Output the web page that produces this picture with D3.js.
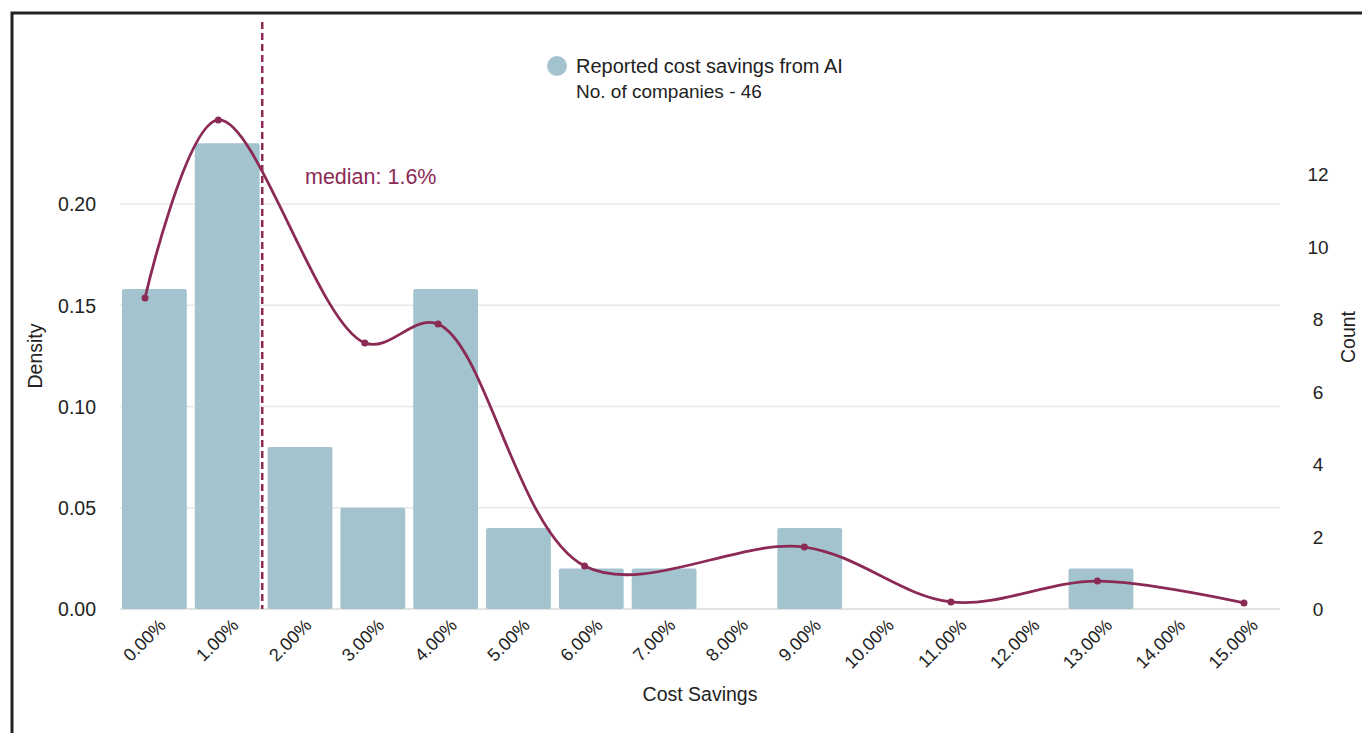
<!DOCTYPE html>
<html>
<head>
<meta charset="utf-8">
<script src="https://cdn.jsdelivr.net/npm/d3@7"></script>
<style>
  body { margin: 0; background: #fff; }
  svg { display: block; font-family: "Liberation Sans", Arial, sans-serif; }
</style>
</head>
<body>
<div id="chart"></div>
<script>
// histogram bins (cost savings %), density
const binLabels = ["0.00%","1.00%","2.00%","3.00%","4.00%","5.00%","6.00%","7.00%",
                   "8.00%","9.00%","10.00%","11.00%","12.00%","13.00%","14.00%","15.00%"];
const binDensity = [0.158, 0.23, 0.08, 0.05, 0.158, 0.04, 0.02, 0.02,
                    0, 0.04, 0, 0, 0, 0.02, 0, 0];
// kde curve points
const kdeX = [0, 1, 3, 4, 6, 9, 11, 13, 15];
const kdeY = [0.1536, 0.2415, 0.1314, 0.1407, 0.0212, 0.0306, 0.0035, 0.0138, 0.003];
const median = 1.6;
const densityTicks = [0, 0.05, 0.10, 0.15, 0.20];
const countTicks = [0, 2, 4, 6, 8, 10, 12];

const width = 1362, height = 733;
const barColor = "#a3c4cf", lineColor = "#8b2a55", textColor = "#222";

const svg = d3.select("#chart").append("svg")
    .attr("width", width)
    .attr("height", height);

// frame
svg.append("rect")
    .attr("x", 12).attr("y", 13)
    .attr("width", 1400).attr("height", 800)
    .attr("fill", "none").attr("stroke", "#222").attr("stroke-width", 3);

const x = d3.scaleBand()
    .domain(binLabels)
    .range([118, 1283])
    .paddingInner(0.11)
    .paddingOuter(0.055);

// curve / median use a plain linear scale
const xLin = d3.scaleLinear().domain([0, 15]).range([145, 1244]);

const y = d3.scaleLinear().domain([0, 0.2]).range([609, 204]);
const yCount = d3.scaleLinear().domain([0, 12]).range([609, 174]);

// gridlines
svg.append("g")
    .selectAll("line")
    .data(densityTicks)
    .enter().append("line")
    .attr("x1", 120).attr("x2", 1280)
    .attr("y1", d => y(d)).attr("y2", d => y(d))
    .attr("stroke", d => d === 0 ? "#d9d9d9" : "#e8e8e8")
    .attr("stroke-width", 1.5);

// bars
svg.append("g")
    .selectAll("rect")
    .data(binDensity)
    .enter().append("rect")
    .attr("x", (d, i) => x(binLabels[i]))
    .attr("y", d => y(d))
    .attr("width", x.bandwidth())
    .attr("height", d => y(0) - y(d))
    .attr("rx", 2)
    .attr("fill", barColor);

// left axis
const yAxis = svg.append("g")
    .attr("transform", "translate(96,0)")
    .call(d3.axisLeft(y).tickValues(densityTicks).tickFormat(d3.format(".2f")).tickSize(0));
yAxis.select(".domain").remove();
yAxis.selectAll("text").attr("font-size", 19.5).attr("fill", textColor).attr("dy", "0.35em").attr("x", 0);

// right axis
const cAxis = svg.append("g")
    .attr("transform", "translate(1318,0)")
    .call(d3.axisRight(yCount).tickValues(countTicks).tickSize(0));
cAxis.select(".domain").remove();
cAxis.selectAll("text").attr("font-size", 19).attr("fill", textColor)
    .attr("text-anchor", "middle").attr("x", 0).attr("dy", "0.35em");

// x axis
const xAxis = svg.append("g")
    .attr("transform", "translate(0,609)")
    .call(d3.axisBottom(x).tickSize(0));
xAxis.select(".domain").remove();
xAxis.selectAll("text")
    .attr("font-size", 18).attr("fill", textColor)
    .attr("text-anchor", "end")
    .attr("transform", "translate(8,13) rotate(-45)")
    .attr("dy", "0.35em").attr("y", 0).attr("x", 0);

// axis titles
svg.append("text")
    .attr("text-anchor", "middle")
    .attr("transform", "translate(42,356)rotate(-90)")
    .attr("font-size", 19.5).attr("fill", textColor)
    .text("Density");

svg.append("text")
    .attr("text-anchor", "middle")
    .attr("transform", "translate(1355,337)rotate(-90)")
    .attr("font-size", 19.5).attr("fill", textColor)
    .text("Count");

svg.append("text")
    .attr("text-anchor", "middle")
    .attr("x", 700).attr("y", 701)
    .attr("font-size", 19.5).attr("fill", textColor)
    .text("Cost Savings");

// median line
svg.append("line")
    .attr("x1", xLin(median)).attr("x2", xLin(median))
    .attr("y1", 22).attr("y2", 609)
    .attr("stroke", lineColor).attr("stroke-width", 2.5)
    .attr("stroke-dasharray", "7,4");

svg.append("text")
    .attr("x", 305).attr("y", 184)
    .attr("font-size", 21.5).attr("fill", lineColor)
    .text("median: " + median + "%");

// kde curve
const pts = kdeX.map((v, i) => [v, kdeY[i]]);
const line = d3.line()
    .x(d => xLin(d[0]))
    .y(d => y(d[1]))
    .curve(d3.curveCatmullRom.alpha(0.5));

svg.append("path")
    .datum(pts)
    .attr("d", line)
    .attr("fill", "none")
    .attr("stroke", lineColor)
    .attr("stroke-width", 2.8);

svg.selectAll(".dot")
    .data(pts)
    .enter().append("circle")
    .attr("class", "dot")
    .attr("cx", d => xLin(d[0]))
    .attr("cy", d => y(d[1]))
    .attr("r", 3.5)
    .attr("fill", lineColor);

// legend
svg.append("circle")
    .attr("cx", 557).attr("cy", 66).attr("r", 10)
    .attr("fill", barColor);
svg.append("text")
    .attr("x", 576).attr("y", 73)
    .attr("font-size", 20).attr("fill", textColor)
    .text("Reported cost savings from AI");
svg.append("text")
    .attr("x", 576).attr("y", 98)
    .attr("font-size", 19).attr("fill", textColor)
    .text("No. of companies - 46");
</script>
</body>
</html>
